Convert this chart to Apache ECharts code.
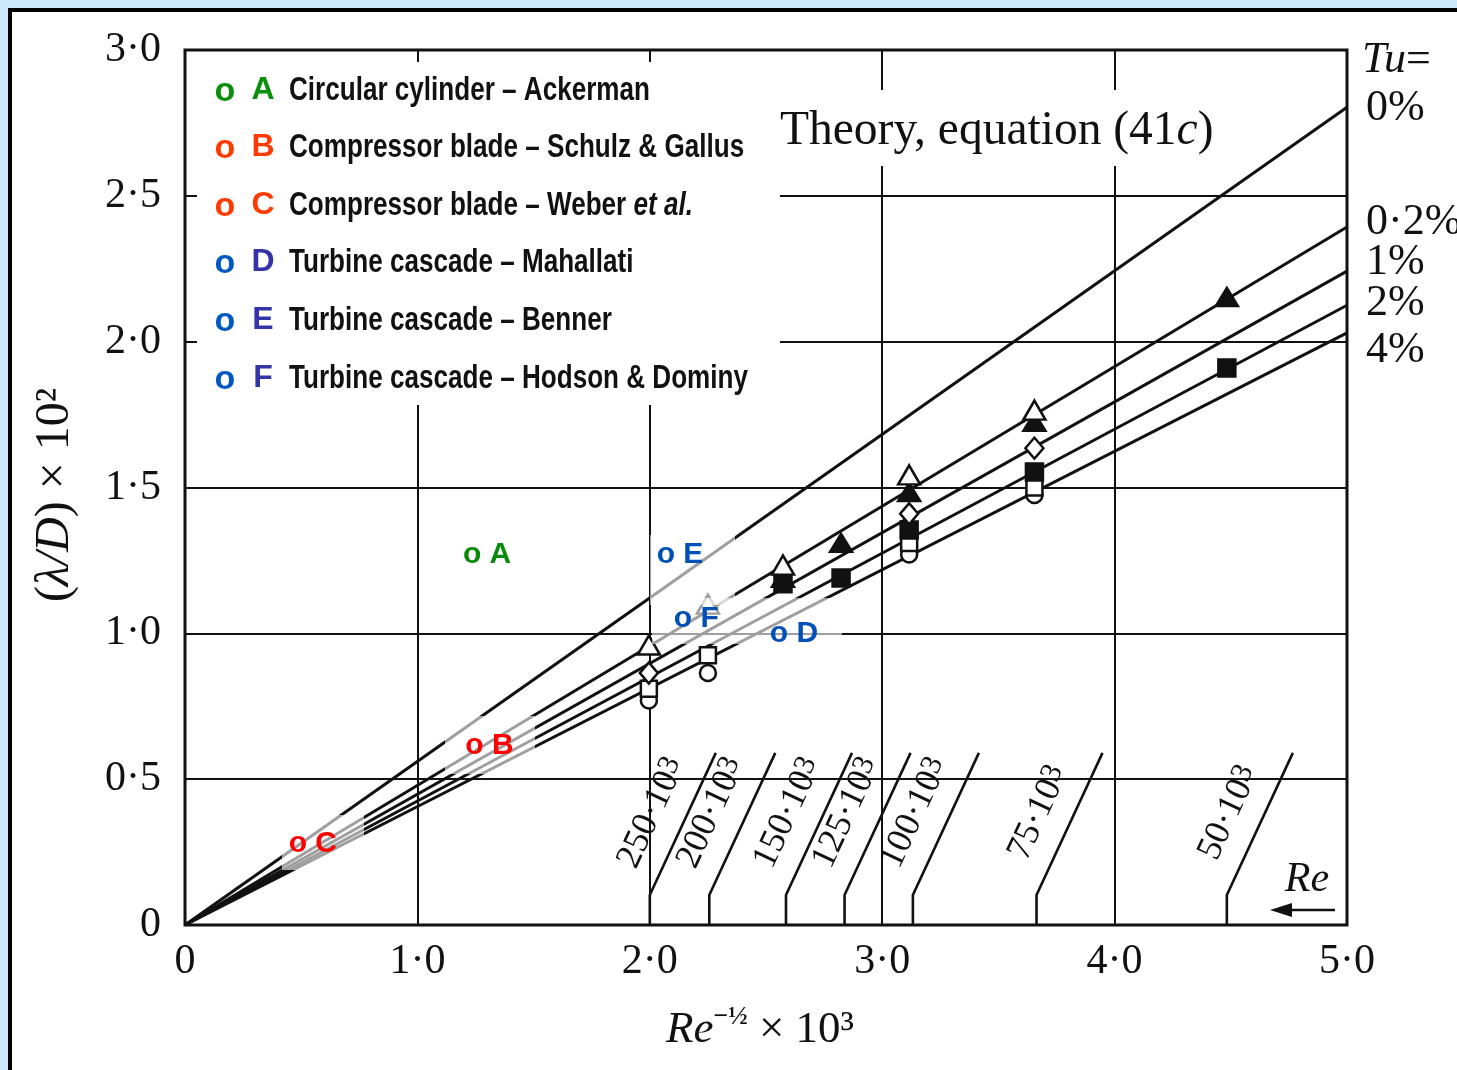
<!DOCTYPE html>
<html><head><meta charset="utf-8">
<script src="https://cdn.jsdelivr.net/npm/echarts@6/dist/echarts.min.js"></script>
<style>
html,body{margin:0;padding:0;background:#cde8fa;width:1457px;height:1070px;overflow:hidden}
#frame{position:absolute;left:8px;top:8px;width:1500px;height:1100px;border-left:4px solid #000;border-top:4px solid #000;background:#fff}
#chart{position:absolute;left:0;top:0;width:1457px;height:1070px}
</style></head><body><div id="frame"></div><div id="chart"></div>
<script>
// ---- data ----
const xTicks = ['0', '1·0', '2·0', '3·0', '4·0', '5·0'];
const yTicks = ['0', '0·5', '1·0', '1·5', '2·0', '2·5', '3·0'];
const tuLabels = ['0%', '0·2%', '1%', '2%', '4%'];
const tuEndValues = [2.804, 2.393, 2.242, 2.125, 2.03];   // theory lines, value at x = 5.0
const reLabels = ['250·10', '200·10', '150·10', '125·10', '100·10', '75·10', '50·10'];
const reX = [2.0, 2.256, 2.586, 2.838, 3.132, 3.664, 4.483];
const openTriangle = [[1.996, 0.96], [2.25, 1.10], [2.573, 1.234], [3.116, 1.543], [3.655, 1.765]];
const filledTriangle = [[2.573, 1.19], [2.823, 1.31], [3.116, 1.484], [3.655, 1.725], [4.483, 2.153]];
const openDiamond = [[1.996, 0.864], [3.116, 1.41], [3.655, 1.635]];
const filledSquare = [[2.573, 1.17], [2.823, 1.19], [3.116, 1.354], [3.655, 1.553], [4.483, 1.91]];
const openSquare = [[1.996, 0.81], [2.25, 0.925], [3.116, 1.31], [3.655, 1.50]];
const openCircle = [[1.996, 0.77], [2.25, 0.864], [3.116, 1.27], [3.655, 1.474]];
const legendKeys = ['A', 'B', 'C', 'D', 'E', 'F'];
const legendTexts = ['Circular cylinder – Ackerman', 'Compressor blade – Schulz & Gallus',
  'Compressor blade – Weber ', 'Turbine cascade – Mahallati', 'Turbine cascade – Benner',
  'Turbine cascade – Hodson & Dominy'];
const notes = [['A', 1.30, 1.27], ['B', 1.31, 0.614], ['C', 0.55, 0.28], ['E', 2.13, 1.27], ['F', 2.2, 1.05], ['D', 2.62, 1.0]];

const chart = echarts.init(document.getElementById('chart'));
const SERIF = '"Liberation Serif", "DejaVu Serif", serif';
const SANS = '"Liberation Sans", Arial, sans-serif';
const keyColor = {A: '#0a900a', B: '#ff3a00', C: '#ff3a00', D: '#3434a8', E: '#3434a8', F: '#3434a8'};
const oColor = {A: '#0a900a', B: '#ff3a00', C: '#ff3a00', D: '#0058c0', E: '#0058c0', F: '#0058c0'};
const noteColor = {A: '#0a8a0a', B: '#ff0000', C: '#ff0000', D: '#0050b8', E: '#0050b8', F: '#0050b8'};

// horizontal squeeze of the legend font to look like a narrow bold face
const mctx = document.createElement('canvas').getContext('2d');
mctx.font = 'bold 33px "Liberation Sans"';
const legendScale = 361 / mctx.measureText(legendTexts[0]).width;

const series = [];
tuEndValues.forEach((v) => {
  series.push({type: 'line', data: [[0, 0], [5, v]], symbol: 'none', silent: true, z: 3,
    lineStyle: {color: '#111', width: 3}});
});
reX.forEach((x0) => {
  series.push({type: 'line', data: [[x0, 0], [x0, 0.103], [x0 + 0.284, 0.59]], symbol: 'none', silent: true, z: 3,
    lineStyle: {color: '#111', width: 2.6}});
});
function markers(data, symbol, size, fill) {
  series.push({type: 'scatter', data, symbol, symbolSize: size, silent: true, z: 6,
    itemStyle: {color: fill, borderColor: '#111', borderWidth: 2.5, opacity: 1}});
}
markers(openCircle, 'circle', 16, '#fff');
markers(openSquare, 'rect', 16, '#fff');
markers(filledSquare, 'rect', 17, '#111');
markers(openDiamond, 'diamond', [18, 21], '#fff');
markers(filledTriangle, 'triangle', [22, 18], '#111');
markers(openTriangle, 'triangle', [22, 19], '#fff');

const graphic = [
  {type: 'rect', shape: {x: 197, y: 62, width: 583, height: 343}, style: {fill: '#fff'}, z: 1},
  {type: 'rect', shape: {x: 776, y: 90, width: 450, height: 76}, style: {fill: '#fff'}, z: 1},
  {type: 'text', x: 780, y: 132, z: 5, style: {text: '{n|Theory, equation (41}{i|c}{n|)}', verticalAlign: 'middle',
    rich: {n: {fontFamily: SERIF, fontSize: 47.5, fill: '#111'}, i: {fontFamily: SERIF, fontStyle: 'italic', fontSize: 47.5, fill: '#111'}}}},
  {type: 'text', x: 55, y: 495, rotation: Math.PI / 2, z: 5, style: {text: '{n|(}{i|λ/D}{n|) × 10²}', align: 'center', verticalAlign: 'middle',
    rich: {n: {fontFamily: SERIF, fontSize: 48, fill: '#111'}, i: {fontFamily: SERIF, fontStyle: 'italic', fontSize: 48, fill: '#111'}}}},
  {type: 'text', x: 760, y: 1030, z: 5, style: {text: '{i|Re}{s|−½}{n| × 10³}', align: 'center', verticalAlign: 'middle',
    rich: {n: {fontFamily: SERIF, fontSize: 45, fill: '#111'}, i: {fontFamily: SERIF, fontStyle: 'italic', fontSize: 45, fill: '#111'},
      s: {fontFamily: SERIF, fontWeight: 'bold', fontSize: 26, fill: '#111', padding: [0, 0, 26, 0]}}}},
  {type: 'text', x: 1362, y: 60, z: 5, style: {text: '{i|Tu}{n|=}', verticalAlign: 'middle',
    rich: {n: {fontFamily: SERIF, fontSize: 44, fill: '#111'}, i: {fontFamily: SERIF, fontStyle: 'italic', fontSize: 44, fill: '#111'}}}},
  {type: 'text', x: 1307, y: 880, z: 5, style: {text: 'Re', align: 'center', verticalAlign: 'middle', fontFamily: SERIF, fontStyle: 'italic', fontSize: 42, fill: '#111'}},
  {type: 'line', shape: {x1: 1335, y1: 910, x2: 1285, y2: 910}, style: {stroke: '#111', lineWidth: 2.5}, z: 5},
  {type: 'polygon', shape: {points: [[1270, 910], [1292, 903], [1292, 917]]}, style: {fill: '#111'}, z: 5},
  // faded (erased) patches behind the in-plot notes
  {type: 'rect', shape: {x: 650, y: 535, width: 85, height: 70}, style: {fill: 'rgba(255,255,255,0.6)'}, z: 7},
  {type: 'rect', shape: {x: 652, y: 598, width: 190, height: 46}, style: {fill: 'rgba(255,255,255,0.6)'}, z: 7},
  {type: 'rect', shape: {x: 445, y: 716, width: 90, height: 58}, style: {fill: 'rgba(255,255,255,0.6)'}, z: 7},
  {type: 'rect', shape: {x: 282, y: 815, width: 82, height: 55}, style: {fill: 'rgba(255,255,255,0.6)'}, z: 7}
];
const tuY = [108, 222, 262, 303, 350];
tuLabels.forEach((t, i) => graphic.push({type: 'text', x: 1366, y: tuY[i], z: 5,
  style: {text: t, verticalAlign: 'middle', fontFamily: SERIF, fontSize: 44, fill: '#111'}}));
const rowY = [91, 148, 206, 263, 321, 379];
legendKeys.forEach((k, i) => {
  graphic.push({type: 'text', x: 225, y: rowY[i] + 1, z: 5, style: {text: 'o', align: 'center', verticalAlign: 'middle', fontFamily: SANS, fontWeight: 'bold', fontSize: 34, fill: oColor[k]}});
  graphic.push({type: 'text', x: 263, y: rowY[i] - 1, z: 5, style: {text: k, align: 'center', verticalAlign: 'middle', fontFamily: SANS, fontWeight: 'bold', fontSize: 32, fill: keyColor[k]}});
  const txt = k === 'C' ? '{n|' + legendTexts[i] + '}{i|et al.}' : '{n|' + legendTexts[i] + '}';
  graphic.push({type: 'text', x: 289, y: rowY[i], scaleX: legendScale, z: 5, style: {text: txt, verticalAlign: 'middle',
    rich: {n: {fontFamily: SANS, fontWeight: 'bold', fontSize: 33, fill: '#111'}, i: {fontFamily: SANS, fontWeight: 'bold', fontStyle: 'italic', fontSize: 33, fill: '#111'}}}});
});

chart.setOption({
  animation: false,
  grid: {left: 185, top: 50, right: 110, bottom: 145, show: true, borderColor: '#111', borderWidth: 3, backgroundColor: 'transparent'},
  xAxis: {type: 'value', min: 0, max: 5, interval: 1,
    axisLine: {show: false}, axisTick: {show: false},
    splitLine: {show: true, lineStyle: {color: '#111', width: 2}},
    axisLabel: {formatter: v => xTicks[Math.round(v)], fontFamily: SERIF, fontSize: 42, color: '#111', margin: 16}},
  yAxis: {type: 'value', min: 0, max: 3, interval: 0.5,
    axisLine: {show: false}, axisTick: {show: false},
    splitLine: {show: true, lineStyle: {color: '#111', width: 2}},
    axisLabel: {formatter: v => yTicks[Math.round(v / 0.5)], fontFamily: SERIF, fontSize: 42, color: '#111', margin: 24}},
  series,
  graphic
});
// in-plot annotations and Re labels, placed from data coordinates
const extra = notes.map(([k, x, y]) => {
  const p = chart.convertToPixel({gridIndex: 0}, [x, y]);
  return {type: 'text', x: p[0], y: p[1], z: 8, style: {text: 'o ' + k, align: 'center', verticalAlign: 'middle', fontFamily: SANS, fontWeight: 'bold', fontSize: 30, fill: noteColor[k]}};
});
reX.forEach((x0, i) => {
  const p = chart.convertToPixel({gridIndex: 0}, [x0 + 0.142, 0.3465]);
  extra.push({type: 'text', x: p[0] - 31, y: p[1] - 11, rotation: 65 * Math.PI / 180, z: 5,
    style: {text: '{n|' + reLabels[i] + '}{s|3}', align: 'center', verticalAlign: 'middle',
      rich: {n: {fontFamily: SERIF, fontSize: 36, fill: '#111'}, s: {fontFamily: SERIF, fontSize: 30, fill: '#111', padding: [0, 0, 8, 0]}}}});
});
chart.setOption({graphic: graphic.concat(extra)});
</script></body></html>
